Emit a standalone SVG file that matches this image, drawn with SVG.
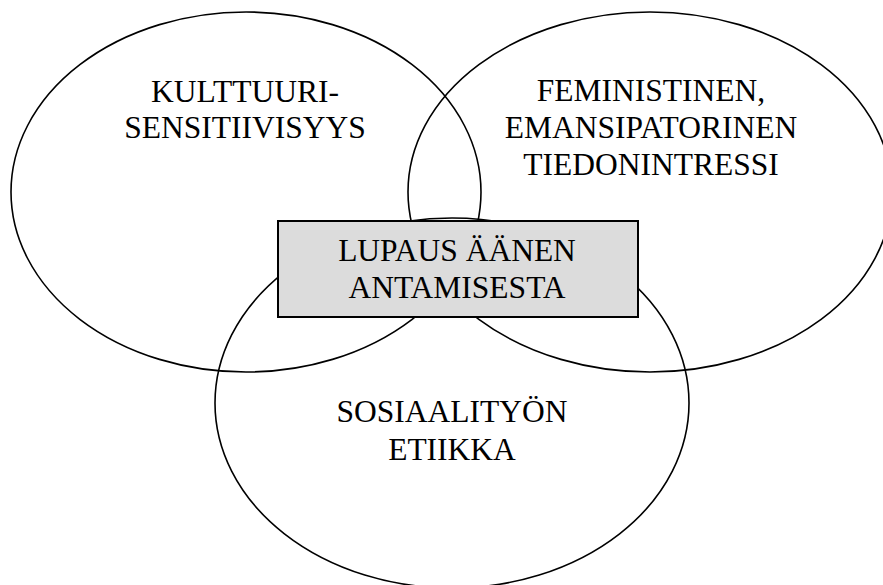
<svg xmlns="http://www.w3.org/2000/svg" width="883" height="585" viewBox="0 0 883 585">
<style>
.e{fill:none;stroke:#000;stroke-width:1.6}
.b{fill:#dcdcdc;stroke:#000;stroke-width:2}
.t{font-family:"Liberation Serif","Times New Roman",serif;font-size:31.5px;fill:#000;text-anchor:middle}
</style>
<rect width="883" height="585" fill="#fff"/>
<g id="kulttuuri">
<ellipse class="e" cx="246" cy="192" rx="235" ry="180"/>
<text class="t" x="245" y="102">KULTTUURI-</text>
<text class="t" x="245" y="138">SENSITIIVISYYS</text>
</g>
<g id="feministinen">
<ellipse class="e" cx="650" cy="192" rx="242" ry="180"/>
<text class="t" x="651" y="101">FEMINISTINEN,</text>
<text class="t" x="651" y="138">EMANSIPATORINEN</text>
<text class="t" x="651" y="175">TIEDONINTRESSI</text>
</g>
<g id="sosiaalityo">
<ellipse class="e" cx="452" cy="403" rx="237" ry="185"/>
<text class="t" x="452" y="422">SOSIAALITYÖN</text>
<text class="t" x="452" y="460">ETIIKKA</text>
</g>
<g id="lupaus">
<rect class="b" x="278" y="221" width="360" height="96"/>
<text class="t" x="457" y="261">LUPAUS ÄÄNEN</text>
<text class="t" x="457" y="298">ANTAMISESTA</text>
</g>
<g id="connectors"></g>
</svg>
